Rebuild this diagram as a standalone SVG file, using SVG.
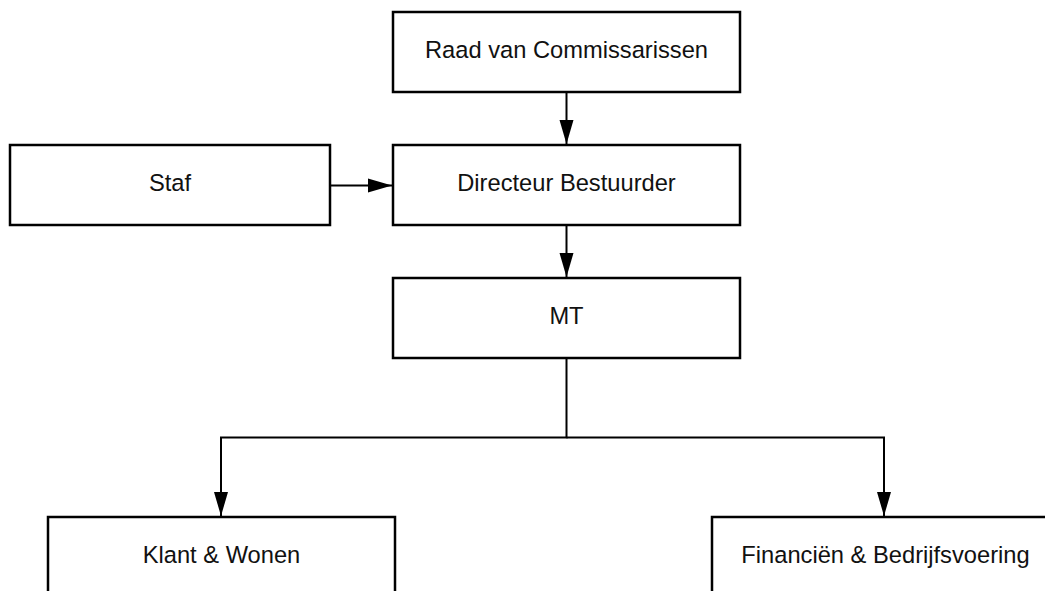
<svg xmlns="http://www.w3.org/2000/svg" width="1045" height="591" viewBox="0 0 1045 591">
<defs>
<style>
.box{fill:#fff;stroke:#000;stroke-width:2.5}
.lbl{font-family:"Liberation Sans",Arial,sans-serif;font-size:23.7px;fill:#111;text-anchor:middle}
.conn{fill:none;stroke:#000;stroke-width:2}
</style>
<marker id="arr" markerUnits="userSpaceOnUse" markerWidth="24" markerHeight="16" refX="24" refY="8" orient="auto">
<path d="M0,1 L24,8 L0,15 Z" fill="#000"/>
</marker>
</defs>
<rect width="1045" height="591" fill="#fff"/>
<g id="connectors">
<path class="conn" d="M566.5,93 V144" marker-end="url(#arr)"/>
<path class="conn" d="M331,185.5 H392" marker-end="url(#arr)"/>
<path class="conn" d="M566.5,226 V277" marker-end="url(#arr)"/>
<path class="conn" d="M566.5,359 V437.5 H221 V516" marker-end="url(#arr)"/>
<path class="conn" d="M566.5,437.5 H884 V516" marker-end="url(#arr)"/>
</g>
<g id="raad"><rect class="box" x="393" y="12" width="347" height="80"/><text class="lbl" x="566.5" y="58">Raad van Commissarissen</text></g>
<g id="staf"><rect class="box" x="10" y="145" width="320" height="80"/><text class="lbl" x="170" y="191">Staf</text></g>
<g id="directeur"><rect class="box" x="393" y="145" width="347" height="80"/><text class="lbl" x="566.5" y="191">Directeur Bestuurder</text></g>
<g id="mt"><rect class="box" x="393" y="278" width="347" height="80"/><text class="lbl" x="566.5" y="324">MT</text></g>
<g id="klant"><rect class="box" x="48" y="517" width="347" height="80"/><text class="lbl" x="221.5" y="563">Klant &amp; Wonen</text></g>
<g id="financien"><rect class="box" x="712" y="517" width="347" height="80"/><text class="lbl" x="885.5" y="563">Financiën &amp; Bedrijfsvoering</text></g>
</svg>
